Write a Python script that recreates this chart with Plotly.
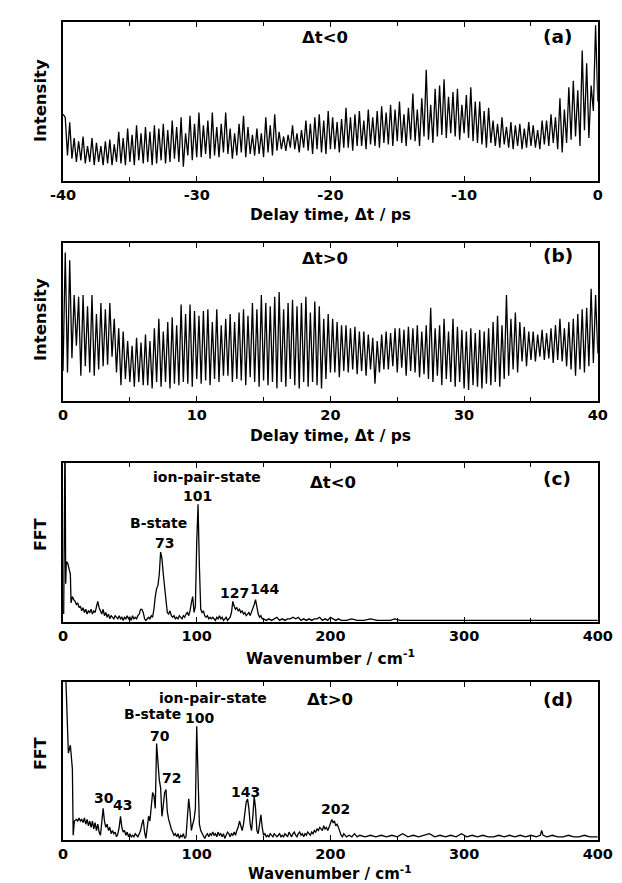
import numpy as np
import plotly.graph_objects as go

# ---------------- data (intensity in % of axis height) -------------
# Panel (a): delay time -40..0 ps, alternating peak / trough values
a_start = 42
a_peaks = [40, 37, 27, 25, 28, 22, 27, 24, 22, 25, 26, 23, 31, 27, 33, 29, 35, 30, 34, 31,
           35, 33, 36, 32, 38, 34, 40, 30, 41, 36, 43, 35, 38, 43, 34, 36, 43, 33, 30, 36,
           41, 34, 29, 33, 30, 40, 35, 42, 31, 28, 29, 35, 30, 32, 38, 36, 40, 42, 38, 44,
           40, 37, 39, 46, 40, 42, 44, 38, 45, 40, 44, 47, 43, 48, 45, 50, 42, 46, 55, 45,
           52, 70, 48, 58, 60, 64, 53, 56, 58, 48, 54, 59, 50, 50, 44, 46, 38, 36, 40, 34,
           37, 35, 36, 33, 37, 35, 32, 38, 38, 42, 40, 52, 45, 59, 63, 57, 82, 74, 60, 98]
a_troughs = [16, 14, 12, 13, 11, 12, 10, 12, 10, 11, 10, 12, 11, 10, 12, 10, 13, 11, 12, 10,
             11, 13, 11, 12, 14, 12, 9, 16, 13, 15, 15, 17, 14, 16, 15, 18, 17, 14, 16, 18,
             15, 17, 16, 17, 15, 18, 16, 19, 20, 19, 21, 20, 18, 21, 19, 17, 20, 18, 17, 20,
             20, 18, 21, 21, 19, 22, 22, 20, 23, 22, 21, 24, 23, 22, 25, 24, 22, 26, 25, 22,
             28, 26, 24, 28, 29, 27, 30, 28, 26, 30, 27, 25, 24, 23, 21, 24, 22, 21, 23, 21,
             20, 22, 20, 21, 22, 21, 20, 23, 22, 24, 20, 18, 24, 26, 28, 22, 32, 27, 44, 50]

# Panel (b): delay time 0..40 ps, alternating peak / trough values
b_start = 19
b_peaks = [94, 89, 67, 66, 67, 60, 67, 55, 62, 58, 62, 52, 46, 44, 38, 35, 40, 37, 42, 38,
           46, 52, 44, 50, 53, 48, 61, 55, 61, 57, 54, 57, 58, 50, 58, 48, 52, 55, 50, 56,
           58, 54, 62, 58, 67, 62, 60, 66, 69, 58, 62, 64, 60, 62, 66, 56, 63, 60, 52, 55,
           52, 50, 48, 48, 46, 47, 44, 44, 42, 40, 38, 42, 44, 43, 46, 46, 45, 47, 46, 48,
           44, 48, 59, 46, 48, 52, 44, 52, 47, 45, 44, 46, 43, 45, 44, 46, 50, 54, 48, 67,
           52, 56, 50, 47, 44, 44, 42, 45, 43, 46, 48, 52, 46, 50, 52, 55, 58, 59, 71, 67]
b_troughs = [18, 27, 35, 16, 22, 18, 16, 20, 22, 23, 28, 18, 10, 14, 12, 9, 12, 10, 10, 8,
             12, 9, 12, 8, 11, 10, 12, 11, 9, 14, 11, 13, 10, 14, 12, 16, 16, 12, 14, 13,
             10, 15, 12, 9, 13, 10, 12, 8, 12, 9, 14, 10, 8, 12, 9, 12, 10, 8, 14, 18,
             18, 15, 19, 18, 20, 17, 19, 16, 20, 11, 18, 20, 20, 22, 18, 21, 16, 19, 18, 15,
             17, 14, 12, 16, 10, 14, 12, 9, 12, 8, 7, 10, 9, 8, 11, 10, 12, 9, 14, 16,
             20, 18, 25, 22, 26, 25, 28, 26, 27, 24, 26, 25, 22, 20, 16, 20, 18, 22, 24, 30]

# Panel (c): FFT of the dt<0 trace
c_wn = [0.5, 1, 1.5, 2, 2.5, 3.5, 4.5, 5.5, 6, 7, 8, 9, 10, 11, 12, 13, 14, 15, 16, 17, 18, 19,
        20, 21, 22, 23, 24, 25, 26, 27, 28, 29, 30, 31, 32, 33, 34, 35, 36, 37, 38, 39, 40,
        41, 42, 43, 44, 45, 46, 47, 48, 49, 50, 51, 52, 53, 54, 55, 56, 57, 58, 59, 60, 61,
        62, 63, 64, 65, 66, 67, 68, 69, 70, 71, 72, 73, 74, 75, 76, 77, 78, 79, 80, 81, 82,
        83, 84, 85, 86, 87, 88, 89, 90, 91, 92, 93, 94, 95, 96, 97, 98, 99, 100, 101, 102,
        103, 104, 105, 106, 107, 108, 109, 110, 111, 112, 113, 114, 115, 116, 117, 118, 119,
        120, 121, 122, 123, 124, 125, 126, 127, 128, 129, 130, 131, 132, 133, 134, 135, 136,
        137, 138, 139, 140, 141, 142, 143, 144, 145, 146, 147, 148, 149, 150, 152, 154, 156,
        158, 160, 162, 164, 166, 168, 170, 172, 174, 176, 178, 180, 182, 184, 186, 188, 190,
        192, 194, 196, 198, 200, 202, 204, 206, 208, 212, 216, 220, 225, 230, 235, 240, 245,
        248, 252, 256, 260, 266, 272, 278, 284, 290, 296, 302, 308, 314, 320, 326, 332, 338,
        344, 350, 356, 362, 368, 374, 380, 386, 392, 398, 400]
c_fft = [5, 120, 120, 24, 38, 37, 33, 30, 12, 16, 14, 13, 11, 12, 9, 10, 7, 9, 6, 8, 5, 7,
         6, 8, 5, 7, 6, 9, 13, 9, 7, 5, 8, 4, 6, 3, 5, 2, 4, 3, 2, 4, 3,
         2, 4, 2, 3, 1, 3, 2, 4, 2, 3, 1, 4, 2, 3, 2, 4, 5, 8, 8, 6, 2,
         1, 2, 3, 2, 4, 3, 8, 16, 21, 23, 30, 44, 40, 30, 22, 12, 6, 5, 7, 4, 3,
         4, 2, 3, 2, 4, 3, 2, 4, 3, 5, 6, 4, 7, 12, 16, 6, 10, 50, 74, 35,
         8, 6, 7, 4, 3, 4, 2, 3, 2, 3, 2, 1, 3, 2, 4, 2, 3,
         1, 2, 3, 1, 2, 3, 6, 13, 10, 8, 9, 7, 8, 6, 7, 5, 6,
         4, 5, 6, 4, 6, 9, 11, 14, 9, 5, 3, 4, 2, 2, 1, 2, 1,
         2, 3, 1, 2, 1, 2, 2, 3, 2, 3, 1, 2, 1, 2, 1, 2, 2,
         3, 1, 2, 1, 3, 2, 1, 2, 1, 1, 2, 1, 1, 2, 1, 1, 1,
         2, 1, 1, 1, 1, 1, 1, 1, 1, 1, 1, 1, 1, 1, 1, 1, 1,
         1, 1, 1, 1, 1, 1, 1, 1, 1, 1, 1]

# Panel (d): FFT of the dt>0 trace
d_wn = [1, 2, 3, 4, 5, 5.5, 6.5, 7, 7.6, 8.5, 10, 11, 12, 13, 14, 15, 16, 17, 18, 19, 20, 21,
        22, 23, 24, 25, 26, 27, 28, 29, 30, 31, 32, 33, 34, 35, 36, 37, 38, 39, 40, 41, 42,
        43, 44, 45, 46, 47, 48, 49, 50, 51, 52, 53, 54, 55, 56, 57, 58, 59, 60, 61, 62, 63,
        64, 65, 66, 67, 68, 69, 70, 71, 72, 73, 74, 75, 76, 77, 78, 79, 80, 81, 82, 83, 84,
        85, 86, 87, 88, 89, 90, 91, 92, 93, 94, 95, 96, 97, 98, 99, 100, 101, 102, 103, 104,
        105, 106, 107, 108, 109, 110, 111, 112, 113, 114, 115, 116, 117, 118, 119, 120, 121,
        122, 123, 124, 125, 126, 127, 128, 129, 130, 131, 132, 133, 134, 135, 136, 137, 138,
        139, 140, 141, 142, 143, 144, 145, 146, 147, 148, 149, 150, 151, 152, 153, 154, 155,
        156, 157, 158, 159, 160, 161, 162, 163, 164, 165, 166, 167, 168, 169, 170, 171, 172,
        173, 174, 175, 176, 177, 178, 179, 180, 181, 182, 183, 184, 185, 186, 187, 188, 189,
        190, 191, 192, 193, 194, 195, 196, 197, 198, 199, 200, 201, 202, 203, 204, 205, 206,
        207, 208, 209, 210, 212, 214, 216, 218, 220, 222, 226, 230, 234, 238, 242, 246, 250,
        254, 258, 262, 266, 270, 274, 278, 282, 286, 290, 294, 298, 302, 306, 310, 314, 318,
        322, 326, 330, 334, 338, 342, 346, 350, 354, 357, 358, 359, 362, 366, 370, 374, 378,
        382, 386, 390, 394, 398, 400]
d_fft = [130, 110, 80, 55, 58, 60, 50, 45, 3, 12, 13, 12, 14, 12, 13, 11, 14, 10, 13, 9, 12, 8,
         12, 7, 11, 6, 10, 5, 3, 14, 20, 12, 8, 10, 6, 8, 4, 6, 4, 5, 2, 4, 8,
         15, 8, 5, 6, 3, 5, 2, 4, 2, 3, 2, 4, 3, 2, 4, 6, 10, 13, 5, 1, 8,
         15, 12, 24, 30, 28, 20, 61, 45, 38, 33, 15, 22, 30, 32, 18, 13, 9, 7, 5, 3, 4,
         2, 4, 1, 3, 2, 4, 1, 2, 14, 26, 18, 6, 10, 13, 20, 72, 40, 10, 6, 4,
         3, 1, 3, 4, 2, 4, 3, 5, 3, 4, 2, 5, 3, 4, 2, 4, 1,
         3, 5, 4, 2, 4, 3, 5, 3, 6, 8, 12, 9, 6, 10, 18, 24, 26,
         20, 10, 6, 15, 28, 20, 6, 4, 10, 16, 8, 3, 4, 2, 3, 2, 4,
         3, 2, 4, 3, 2, 3, 4, 2, 3, 2, 4, 3, 2, 5, 3, 2, 4,
         5, 3, 2, 4, 5, 3, 4, 2, 4, 3, 5, 4, 3, 5, 4, 6, 5,
         7, 6, 8, 7, 6, 9, 7, 8, 6, 8, 10, 13, 11, 12, 9, 10, 8,
         5, 3, 2, 4, 2, 3, 2, 4, 2, 3, 2, 3, 2, 3, 2, 3, 2,
         4, 2, 3, 2, 3, 4, 2, 3, 2, 3, 2, 4, 2, 3, 2, 3, 2,
         2, 3, 2, 3, 2, 3, 2, 3, 2, 3, 6, 3, 2, 3, 2, 2, 3,
         2, 2, 3, 2, 2, 2]

time_ticks_a = [-40, -30, -20, -10, 0]
time_text_a = ["-40", "-30", "-20", "-10", "0"]
time_ticks_b = [0, 10, 20, 30, 40]
wn_ticks = [0, 100, 200, 300, 400]


def interleave(start, peaks, troughs):
    out = [start]
    for p, t in zip(peaks, troughs):
        out += [p, t]
    return out


a_vals = interleave(a_start, a_peaks, a_troughs)
b_vals = interleave(b_start, b_peaks, b_troughs)
a_time = np.linspace(-40, 0, len(a_vals))
b_time = np.linspace(0, 40, len(b_vals))

# ---------------- figure ----------------
W, H = 622, 883
FONT = "DejaVu Sans, Liberation Sans, sans-serif"
line = dict(color="black", width=1.3)

fig = go.Figure()
fig.add_trace(go.Scatter(x=a_time, y=a_vals, mode="lines", line=line, xaxis="x", yaxis="y"))
fig.add_trace(go.Scatter(x=b_time, y=b_vals, mode="lines", line=line, xaxis="x2", yaxis="y2"))
fig.add_trace(go.Scatter(x=c_wn, y=c_fft, mode="lines", line=line, xaxis="x3", yaxis="y3"))
fig.add_trace(go.Scatter(x=d_wn, y=d_fft, mode="lines", line=line, xaxis="x4", yaxis="y4"))

xdom = [44 / W, 604 / W]
ypix = [(14, 173), (235, 393), (455, 614), (674, 832)]
ydoms = [[1 - b / H, 1 - t / H] for t, b in ypix]


def xaxis_cfg(rng, ticks, text, dt_minor, anchor):
    return dict(domain=xdom, range=rng, tickvals=ticks, ticktext=text,
                ticks="inside", ticklen=5, tickwidth=1.2, tickcolor="black",
                minor=dict(dtick=dt_minor, ticks="inside", ticklen=4, tickwidth=1.2,
                           tickcolor="black"),
                showline=True, linecolor="black", linewidth=1.5, mirror="ticks",
                showgrid=False, zeroline=False, anchor=anchor, ticklabelstandoff=0,
                tickfont=dict(family=FONT, size=14.5, color="black", weight="bold"))


def yaxis_cfg(dom, anchor):
    return dict(domain=dom, range=[0, 100], showticklabels=False, ticks="",
                showline=True, linecolor="black", linewidth=1.5, mirror=True,
                showgrid=False, zeroline=False, anchor=anchor)


fig.update_layout(
    width=W, height=H, margin=dict(l=0, r=0, t=0, b=0),
    paper_bgcolor="white", plot_bgcolor="white", showlegend=False,
    xaxis=xaxis_cfg([-40, 0], time_ticks_a, time_text_a, 5, "y"),
    xaxis2=xaxis_cfg([0, 40], time_ticks_b, [str(v) for v in time_ticks_b], 5, "y2"),
    xaxis3=xaxis_cfg([0, 400], wn_ticks, [str(v) for v in wn_ticks], 50, "y3"),
    xaxis4=xaxis_cfg([0, 400], wn_ticks, [str(v) for v in wn_ticks], 50, "y4"),
    yaxis=yaxis_cfg(ydoms[0], "x"),
    yaxis2=yaxis_cfg(ydoms[1], "x2"),
    yaxis3=yaxis_cfg(ydoms[2], "x3"),
    yaxis4=yaxis_cfg(ydoms[3], "x4"),
)

ann = []


def txt(text, x, y, xref, yref, size):
    ann.append(dict(text=text, x=x, y=y, xref=xref, yref=yref, showarrow=False,
                    xanchor="center", yanchor="middle",
                    font=dict(family=FONT, size=size, color="black", weight="bold")))


# axis titles (paper coords)
xc = (44 + 604) / 2 / W
txt("Delay time, \u0394t / ps", xc, 1 - 207 / H, "paper", "paper", 15.5)
txt("Delay time, \u0394t / ps", xc, 1 - 428 / H, "paper", "paper", 15.5)
txt("Wavenumber / cm<sup>-1</sup>", xc, 1 - 649 / H, "paper", "paper", 15.5)
txt("Wavenumber / cm<sup>-1</sup>", xc, 1 - 865 / H, "paper", "paper", 15)
for label, yc, sz in [("Intensity", 93, 16.5), ("Intensity", 312, 16.5), ("FFT", 527, 16),
                      ("FFT", 746, 16)]:
    ann.append(dict(text=label, x=20 / W, y=1 - yc / H, xref="paper", yref="paper",
                    showarrow=False, textangle=-90, xanchor="center", yanchor="middle",
                    font=dict(family=FONT, size=sz, color="black", weight="bold")))

LBL = 14
DT = 16.5
PL = 18.5
# panel (a)
txt("\u0394t<0", -20.4, 90, "x", "y", DT)
txt("(a)", -3.0, 91, "x", "y", PL)
# panel (b)
txt("\u0394t>0", 19.6, 90.5, "x2", "y2", DT)
txt("(b)", 37.0, 92, "x2", "y2", PL)
# panel (c)
txt("ion-pair-state", 108, 91, "x3", "y3", LBL)
txt("101", 100.7, 79.5, "x3", "y3", LBL)
txt("B-state", 71.6, 62, "x3", "y3", LBL)
txt("73", 76, 50, "x3", "y3", LBL)
txt("127", 128.4, 18, "x3", "y3", LBL)
txt("144", 150.5, 20.5, "x3", "y3", LBL)
txt("\u0394t<0", 202, 87.5, "x3", "y3", DT)
txt("(c)", 369.7, 90, "x3", "y3", PL)
# panel (d)
txt("ion-pair-state", 112, 90, "x4", "y4", LBL)
txt("B-state", 66.8, 80, "x4", "y4", LBL)
txt("100", 102, 77.5, "x4", "y4", LBL)
txt("70", 72.5, 66, "x4", "y4", LBL)
txt("72", 81.2, 39, "x4", "y4", LBL)
txt("30", 30.8, 26.6, "x4", "y4", LBL)
txt("43", 44.4, 22, "x4", "y4", LBL)
txt("143", 136.6, 30.4, "x4", "y4", LBL)
txt("202", 204, 19.5, "x4", "y4", LBL)
txt("\u0394t>0", 199.4, 89, "x4", "y4", DT)
txt("(d)", 370.3, 89, "x4", "y4", PL)

fig.update_layout(annotations=ann)
fig.write_html("out.html")
